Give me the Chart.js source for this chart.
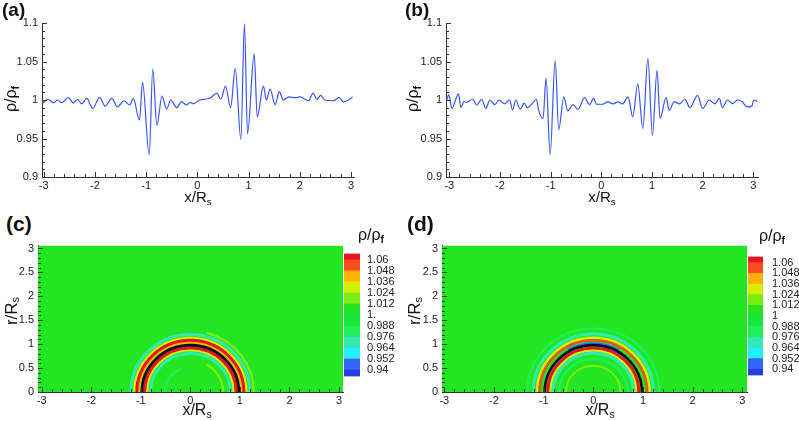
<!DOCTYPE html>
<html>
<head>
<meta charset="utf-8">
<script src="https://cdn.jsdelivr.net/npm/chart.js@4.4.0/dist/chart.umd.min.js"></script>
<style>
body { margin: 0; width: 799px; height: 421px; background: #fff; position: relative; overflow: hidden;
       font-family: "Liberation Sans", Arial, sans-serif; color: #111; }
.box { position: absolute; }
.lbl { position: absolute; white-space: nowrap; line-height: 1; }
.panel { font-weight: bold; font-size: 19px; }
.big { font-size: 21px; }
.ax { font-size: 15px; }
.rot { transform: translate(-50%, -50%) rotate(-90deg); }
.cen { transform: translate(-50%, -50%); }
sub { font-size: 65%; vertical-align: -0.25em; }
</style>
</head>
<body>

<div class="box" style="left:0;top:10px;width:370px;height:190px"><canvas id="chartA"></canvas></div>
<div class="box" style="left:404px;top:10px;width:370px;height:190px"><canvas id="chartB"></canvas></div>
<div class="box" style="left:0;top:235px;width:345px;height:175px"><canvas id="chartC"></canvas></div>
<div class="box" style="left:344px;top:240px;width:56px;height:150px"><canvas id="barC"></canvas></div>
<div class="box" style="left:400px;top:235px;width:350px;height:175px"><canvas id="chartD"></canvas></div>
<div class="box" style="left:748px;top:241px;width:51px;height:150px"><canvas id="barD"></canvas></div>

<div class="lbl panel" style="left:2px;top:0">(a)</div>
<div class="lbl panel" style="left:405px;top:0">(b)</div>
<div class="lbl panel big" style="left:6px;top:213px">(c)</div>
<div class="lbl panel big" style="left:407px;top:213px">(d)</div>

<div class="lbl ax rot" style="left:12px;top:99px;font-size:16px">ρ/ρ<sub><b>f</b></sub></div>
<div class="lbl ax rot" style="left:414px;top:99px;font-size:16px">ρ/ρ<sub><b>f</b></sub></div>
<div class="lbl ax cen" style="left:198px;top:198px">x/R<sub>s</sub></div>
<div class="lbl ax cen" style="left:602px;top:198px">x/R<sub>s</sub></div>

<div class="lbl ax rot" style="left:12px;top:311px;font-size:17px">r/R<sub>s</sub></div>
<div class="lbl ax rot" style="left:415px;top:311px;font-size:17px">r/R<sub>s</sub></div>
<div class="lbl ax cen" style="left:197px;top:411px;font-size:16px">x/R<sub>s</sub></div>
<div class="lbl ax cen" style="left:600px;top:411px;font-size:16px">x/R<sub>s</sub></div>

<div class="lbl cen" style="left:371px;top:236px;font-size:16px">ρ/ρ<sub><b>f</b></sub></div>
<div class="lbl cen" style="left:772px;top:237px;font-size:16px">ρ/ρ<sub><b>f</b></sub></div>

<script>
// density profiles along the axis, panels (a) and (b)
const aX = [-3.02,-2.91,-2.81,-2.73,-2.65,-2.52,-2.42,-2.34,-2.26,-2.16,-2.04,-1.91,-1.80,-1.67,-1.56,-1.43,-1.32,-1.25,-1.13,-1.07,-0.94,-0.87,-0.79,-0.69,-0.60,-0.52,-0.40,-0.31,-0.21,-0.14,-0.08,0.05,0.15,0.25,0.38,0.46,0.55,0.65,0.74,0.85,0.92,0.98,1.11,1.17,1.29,1.35,1.42,1.52,1.60,1.68,1.78,1.91,2.00,2.10,2.17,2.26,2.33,2.41,2.49,2.66,2.77,2.85,2.95,3.03];
const aY = [0.996,1.001,0.9965,1.000,0.9965,1.003,0.996,1.001,0.995,1.002,0.989,1.0035,0.992,1.002,0.991,0.999,0.9935,1.002,0.974,1.023,0.929,1.040,0.967,1.005,0.988,1.000,0.990,0.998,0.9935,0.997,0.995,1.000,1.001,1.0025,1.009,1.001,1.018,0.990,1.041,0.949,1.099,0.956,1.060,0.978,1.018,1.000,1.014,0.994,1.011,1.000,1.004,1.003,1.004,1.001,0.999,1.009,1.001,1.006,1.000,0.999,1.0035,0.9975,1.000,1.004];

const bX = [-3.05,-3.01,-2.95,-2.82,-2.77,-2.71,-2.66,-2.54,-2.46,-2.36,-2.28,-2.20,-2.10,-2.02,-1.91,-1.81,-1.75,-1.69,-1.60,-1.52,-1.46,-1.37,-1.28,-1.24,-1.15,-1.09,-1.01,-0.91,-0.84,-0.74,-0.66,-0.56,-0.46,-0.33,-0.23,-0.15,-0.10,0.03,0.13,0.23,0.33,0.42,0.53,0.62,0.72,0.82,0.92,1.01,1.10,1.16,1.28,1.34,1.44,1.54,1.65,1.75,1.90,2.00,2.13,2.24,2.33,2.39,2.49,2.59,2.69,2.78,2.88,2.97,3.01,3.08];
const bY = [1.000,1.007,0.989,1.008,0.990,0.998,0.997,1.001,0.9935,1.001,0.989,1.000,0.994,1.000,0.995,1.000,0.987,1.000,0.988,0.996,0.990,0.995,1.001,0.9875,0.976,1.028,0.929,1.0515,0.9615,1.004,0.986,0.994,0.988,1.003,0.994,1.0025,0.9945,0.9945,0.9975,0.995,0.9975,0.995,1.004,0.978,1.021,0.963,1.054,0.954,1.0385,0.976,1.003,0.9865,0.998,0.995,1.001,0.990,1.006,0.989,1.000,0.995,1.002,0.990,1.000,0.995,1.000,0.998,0.991,0.992,1.000,0.998];

// contour levels and colours (bins from below 0.94 up to above 1.06)
const levels = [0.94, 0.952, 0.964, 0.976, 0.988, 1.0, 1.012, 1.024, 1.036, 1.048, 1.06];
const binColors = ['#2a3ddc','#3366ff','#22eeff','#33e8b4','#1ef05a','#18e63a','#22e622','#7aee14','#d4f000','#ffb000','#ff4a1e','#e8141e'];
const cbLow = 0.9332, cbHigh = 1.0668;
const cbLabelsC = ['0.94','0.952','0.964','0.976','0.988','1.','1.012','1.024','1.036','1.048','1.06'];
const cbLabelsD = ['0.94','0.952','0.964','0.976','0.988','1','1.012','1.024','1.036','1.048','1.06'];

// density rings around the sphere: radius, radial half-band, density, arc range (deg)
const freeStream = 1.0;
const sphereR = 0.98;
const cRingR    = [1.28, 1.20, 1.13, 1.075, 1.03, 0.925, 0.87, 0.805, 0.66, 0.52];
const cRingBand = [0.025, 0.03, 0.025, 0.035, 0.02, 0.035, 0.02, 0.03, 0.025, 0.02];
const cRingRho  = [1.014, 0.968, 1.032, 1.062, 1.045, 1.062, 1.03, 0.968, 1.014, 0.982];
const cRingFrom = [0, 0, 0, 0, 0, 0, 0, 0, 0, 110];
const cRingTo   = [75, 180, 180, 180, 180, 180, 180, 180, 60, 180];

const dRingR    = [1.33, 1.21, 1.135, 1.08, 1.02, 0.915, 0.865, 0.81, 0.69, 0.55];
const dRingBand = [0.02, 0.03, 0.025, 0.025, 0.02, 0.03, 0.02, 0.03, 0.025, 0.02];
const dRingRho  = [0.978, 0.966, 1.03, 1.05, 0.945, 1.062, 1.03, 0.968, 0.978, 1.014];
const dRingFrom = [0, 0, 0, 0, 60, 0, 0, 0, 0, 0];
const dRingTo   = [180, 180, 180, 180, 120, 180, 180, 180, 180, 180];

// axis ticks
const lineXTicks = [-3, -2, -1, 0, 1, 2, 3];
const lineXLabels = ['-3', '-2', '-1', '0', '1', '2', '3'];
const lineYTicks = [0.9, 0.95, 1, 1.05, 1.1];
const lineYLabels = ['0.9', '0.95', '1', '1.05', '1.1'];
const fieldYTicks = [0, 0.5, 1, 1.5, 2, 2.5, 3];
const fieldYLabels = ['0', '0.5', '1', '1.5', '2', '2.5', '3'];

function minors(from, to, step, majors) {
  const out = [];
  for (let v = from; v <= to + 1e-9; v += step) {
    const r = Math.round(v * 1000) / 1000;
    if (!majors.some(m => Math.abs(m - r) < 1e-6)) out.push(r);
  }
  return out;
}

function colorFor(v) {
  let i = 0;
  while (i < levels.length && v >= levels[i]) i++;
  return binColors[i];
}

const FONT = { family: '"Liberation Sans", Arial, sans-serif', size: 11 };
const AXIS = '#333';

// inward tick marks, Tecplot style
function tickMarks(xMajor, xMinor, yMajor, yMinor) {
  return {
    id: 'tickMarks',
    afterDraw(chart) {
      const { ctx, chartArea: a, scales: { x, y } } = chart;
      ctx.save();
      ctx.strokeStyle = AXIS;
      ctx.lineWidth = 1;
      ctx.beginPath();
      const xm = (v, len) => {
        const p = Math.round(x.getPixelForValue(v)) + 0.5;
        if (p < a.left - 1 || p > a.right + 1) return;
        ctx.moveTo(p, a.bottom); ctx.lineTo(p, a.bottom - len);
      };
      const ym = (v, len) => {
        const p = Math.round(y.getPixelForValue(v)) + 0.5;
        if (p < a.top - 1 || p > a.bottom + 1) return;
        ctx.moveTo(a.left, p); ctx.lineTo(a.left + len, p);
      };
      xMajor.forEach(v => xm(v, 5));
      xMinor.forEach(v => xm(v, 3));
      yMajor.forEach(v => ym(v, 5));
      yMinor.forEach(v => ym(v, 3));
      ctx.stroke();
      ctx.restore();
    }
  };
}

// contour field: free-stream background plus the density rings
function fieldPlot(rings) {
  return {
    id: 'fieldPlot',
    beforeDatasetsDraw(chart) {
      const { ctx, chartArea: a, scales: { x, y } } = chart;
      ctx.save();
      ctx.beginPath();
      ctx.rect(a.left, a.top, a.right - a.left, a.bottom - a.top);
      ctx.clip();
      ctx.fillStyle = colorFor(freeStream);
      ctx.fillRect(a.left, a.top, a.right - a.left, a.bottom - a.top);
      const cx = x.getPixelForValue(0), cy = y.getPixelForValue(0);
      const kx = x.getPixelForValue(1) - cx, ky = cy - y.getPixelForValue(1);
      const rad = d => d * Math.PI / 180;
      rings.r.forEach((r, i) => {
        ctx.beginPath();
        ctx.ellipse(cx, cy, r * kx, r * ky, 0, -rad(rings.to[i]), -rad(rings.from[i]));
        ctx.strokeStyle = colorFor(rings.rho[i]);
        ctx.lineWidth = 2 * rings.band[i] * kx;
        ctx.stroke();
      });
      ctx.beginPath();
      ctx.ellipse(cx, cy, sphereR * kx, sphereR * ky, 0, Math.PI, 2 * Math.PI);
      ctx.strokeStyle = '#0a0a28';
      ctx.lineWidth = 2.6;
      ctx.stroke();
      ctx.restore();
    }
  };
}

function fixedTicks(values) {
  return s => { s.ticks = values.map(v => ({ value: v })); };
}

const noGrid = { display: false, drawTicks: false };

function lineChart(id, xs, ys, xmin, xmax) {
  new Chart(document.getElementById(id), {
    type: 'scatter',
    data: { datasets: [{ data: xs.map((x, i) => ({ x, y: ys[i] })), showLine: true,
      borderColor: '#3a55f5', borderWidth: 1.2, pointRadius: 0,
      cubicInterpolationMode: 'monotone' }] },
    options: {
      responsive: true, maintainAspectRatio: false, animation: false,
      layout: { padding: { top: 13, right: 16, left: 0, bottom: 0 } },
      plugins: { legend: { display: false }, tooltip: { enabled: false } },
      scales: {
        x: { type: 'linear', min: xmin, max: xmax, grid: noGrid,
             border: { display: true, color: AXIS },
             afterBuildTicks: fixedTicks(lineXTicks),
             afterFit: s => { s.height = 23; },
             ticks: { font: FONT, color: '#222', padding: 2, maxRotation: 0, autoSkip: false,
                      callback: (v, i) => lineXLabels[i] } },
        y: { type: 'linear', min: 0.9, max: 1.1, grid: noGrid,
             border: { display: true, color: AXIS },
             afterBuildTicks: fixedTicks(lineYTicks),
             afterFit: s => { s.width = 42; },
             ticks: { font: FONT, color: '#222', padding: 4, autoSkip: false,
                      callback: (v, i) => lineYLabels[i] } }
      }
    },
    plugins: [tickMarks(lineXTicks, minors(-3, 3, 0.2, lineXTicks),
                        lineYTicks, minors(0.9, 1.1, 0.01, lineYTicks))]
  });
}

function fieldChart(id, rings, xmin, xmax, yWidth, padRight) {
  new Chart(document.getElementById(id), {
    type: 'scatter',
    data: { datasets: [] },
    options: {
      responsive: true, maintainAspectRatio: false, animation: false,
      layout: { padding: { top: 6, right: padRight, left: 0, bottom: 0 } },
      plugins: { legend: { display: false }, tooltip: { enabled: false } },
      scales: {
        x: { type: 'linear', min: xmin, max: xmax, grid: noGrid,
             border: { display: true, color: AXIS },
             afterBuildTicks: fixedTicks(lineXTicks),
             afterFit: s => { s.height = 18; },
             ticks: { font: FONT, color: '#222', padding: 2, maxRotation: 0, autoSkip: false,
                      callback: (v, i) => lineXLabels[i] } },
        y: { type: 'linear', min: 0, max: 3.06, grid: noGrid,
             border: { display: true, color: AXIS },
             afterBuildTicks: fixedTicks(fieldYTicks),
             afterFit: s => { s.width = yWidth; },
             ticks: { font: FONT, color: '#222', padding: 4, autoSkip: false,
                      callback: (v, i) => fieldYLabels[i] } }
      }
    },
    plugins: [fieldPlot(rings),
              tickMarks(lineXTicks, minors(-3, 3, 0.2, lineXTicks),
                        fieldYTicks, minors(0, 3, 0.1, fieldYTicks))]
  });
}

function colorBar(id, labels, axisWidth, padBottom, labelPad) {
  const edges = [cbLow, ...levels, cbHigh];
  new Chart(document.getElementById(id), {
    type: 'bar',
    data: { labels: [''], datasets: binColors.map((c, i) => ({
      data: [[edges[i], edges[i + 1]]], backgroundColor: c, borderWidth: 0,
      grouped: false, barPercentage: 1, categoryPercentage: 1 })) },
    options: {
      responsive: true, maintainAspectRatio: false, animation: false,
      layout: { padding: { top: 6, bottom: padBottom, left: 0, right: 0 } },
      plugins: { legend: { display: false }, tooltip: { enabled: false } },
      scales: {
        x: { display: false },
        y: { position: 'right', min: cbLow, max: cbHigh, grid: noGrid,
             border: { display: false },
             afterBuildTicks: fixedTicks(levels),
             afterFit: s => { s.width = axisWidth; },
             ticks: { font: FONT, color: '#222', padding: labelPad, autoSkip: false,
                      callback: (v, i) => labels[i] } }
      }
    }
  });
}

lineChart('chartA', aX, aY, -3.033, 3.059);
lineChart('chartB', bX, bY, -3.065, 3.093);

fieldChart('chartC', { r: cRingR, band: cRingBand, rho: cRingRho, from: cRingFrom, to: cRingTo },
           -3.075, 3.08, 38, 2);
fieldChart('chartD', { r: dRingR, band: dRingBand, rho: dRingRho, from: dRingFrom, to: dRingTo },
           -3.046, 3.095, 42, 3);

colorBar('barC', cbLabelsC, 40, 6, 7);
colorBar('barD', cbLabelsD, 36, 7, 9);
</script>
</body>
</html>
